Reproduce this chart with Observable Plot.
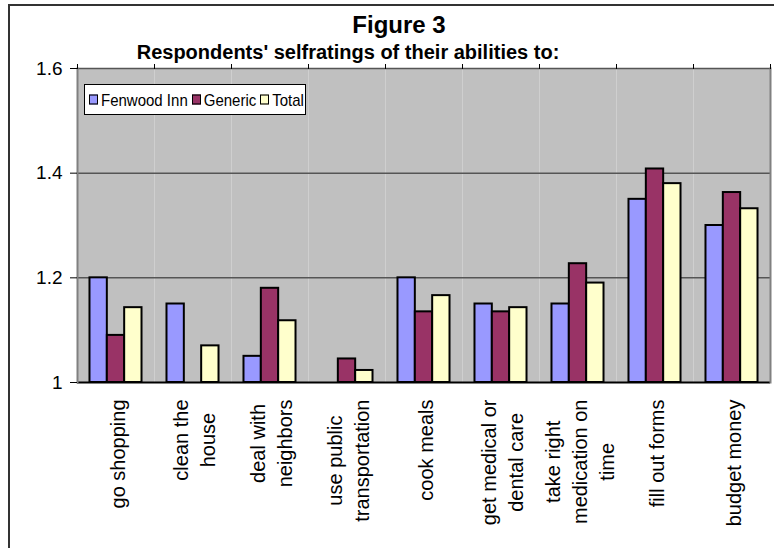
<!DOCTYPE html>
<html>
<head>
<meta charset="utf-8">
<script src="https://cdn.jsdelivr.net/npm/d3@7"></script>
<script src="https://cdn.jsdelivr.net/npm/@observablehq/plot@0.6"></script>
<style>
  body { margin: 0; background: #fff; }
  #wrap { position: relative; width: 774px; height: 548px; overflow: hidden; font-family: "Liberation Sans", Arial, sans-serif; background: #fff; }
  #outer { position: absolute; left: 8px; top: 4px; width: 900px; height: 700px; border-left: 2px solid #333; border-top: 2px solid #333; }
  #chart { position: absolute; left: 0; top: 0; }
  .title { position: absolute; text-align: center; font-weight: bold; color: #000; white-space: nowrap; }
  #t1 { left: 249px; top: 11px; width: 300px; font-size: 24px; }
  #t2 { left: 98px; top: 41px; width: 500px; font-size: 20px; }
  #legend { position: absolute; left: 84px; top: 84px; width: 222px; height: 31px; border: 1px solid #000; background: #fff; display: flex; align-items: center; padding-left: 4px; box-sizing: border-box; font-size: 15px; white-space: nowrap; }
  .sw { display: inline-block; width: 7px; height: 7px; border: 1.5px solid #000; margin-right: 3px; }
  .item { display: inline-flex; align-items: center; margin-right: 4px; transform: scaleY(1.12); }
</style>
</head>
<body>
<div id="wrap">
  <div id="outer"></div>
  <div id="chart"></div>
  <div class="title" id="t1">Figure 3</div>
  <div class="title" id="t2">Respondents' selfratings of their abilities to:</div>
  <div id="legend"></div>
</div>
<script>
const categories = ["go shopping", "clean the house", "deal with neighbors", "use public transportation", "cook meals", "get medical or dental care", "take right medication on time", "fill out forms", "budget money"];
const categoryLabels = ["go shopping", "clean the\nhouse", "deal with\nneighbors", "use public\ntransportation", "cook meals", "get medical or\ndental care", "take right\nmedication on\ntime", "fill out forms", "budget money"];
const series = ["Fenwood Inn", "Generic", "Total"];
const fenwood = [1.20, 1.15, 1.05, null, 1.20, 1.15, 1.15, 1.35, 1.30];
const generic = [1.09, null, 1.18, 1.045, 1.135, 1.135, 1.227, 1.408, 1.363];
const total = [1.143, 1.07, 1.118, 1.023, 1.166, 1.143, 1.19, 1.38, 1.332];
const yTicks = [1, 1.2, 1.4, 1.6];
const yTickLabels = ["1", "1.2", "1.4", "1.6"];
const colors = ["#9999FF", "#993366", "#FFFFCC"];

const seriesValues = [fenwood, generic, total];
const rows = categories.flatMap((c, i) => series.map((s, j) => ({category: c, series: s, value: seriesValues[j][i]})))
  .filter(d => d.value != null);

const W = 774, H = 548, mL = 77, mR = 4, mT = 68, mB = 166;
const step = (W - mL - mR) / categories.length;

const plot = Plot.plot({
  width: W, height: H,
  marginLeft: mL, marginRight: mR, marginTop: mT, marginBottom: mB,
  style: {fontFamily: "'Liberation Sans', Arial, sans-serif", background: "transparent", color: "#000"},
  fx: {domain: categories, padding: 0, round: false, label: null},
  x: {domain: series, paddingInner: 0, paddingOuter: 0.72, round: false, axis: null},
  y: {domain: [yTicks[0], yTicks[yTicks.length - 1]], label: null},
  color: {domain: series, range: colors},
  marks: [
    Plot.frame({fill: "#c0c0c0", stroke: "none"}),
    Plot.gridY({ticks: yTicks.slice(1), stroke: "#555", strokeOpacity: 1, strokeWidth: 1.5}),
    Plot.barY(rows, {fx: "category", x: "series", y1: yTicks[0], y2: "value", fill: "series", stroke: "#000", strokeWidth: 2}),
    Plot.ruleY([yTicks[0]], {stroke: "#000", strokeWidth: 2}),
    Plot.frame({anchor: "left", facetAnchor: "left", stroke: "#808080", strokeWidth: 2}),
    Plot.frame({anchor: "right", facetAnchor: "right", stroke: "#808080", strokeWidth: 2}),
    Plot.axisY({ticks: yTicks, tickFormat: (d) => yTickLabels[yTicks.indexOf(d)], tickSize: 7, tickPadding: 8, fontSize: 19, stroke: "#000", label: null}),
    Plot.axisFx({tickSize: 5, tickFormat: () => "", dx: -step / 2, stroke: "#000", label: null}),
    Plot.axisFx({tickSize: 5, tickFormat: () => "", dx: step / 2, stroke: "#000", label: null}),
    Plot.text(categories, {fx: (d) => d, text: (d, i) => categoryLabels[i], frameAnchor: "bottom", rotate: -90, textAnchor: "end", lineAnchor: "middle", lineHeight: 1.35, dy: 17, fontSize: 20, fill: "#000"})
  ]
});
document.getElementById("chart").appendChild(plot);

// center multi-line labels relative to each other (like the original)
plot.querySelectorAll("text").forEach((t) => {
  const spans = t.querySelectorAll("tspan");
  if (spans.length < 2) return;
  const lens = Array.from(spans, (s) => s.getComputedTextLength());
  const max = Math.max(...lens);
  spans.forEach((s, k) => s.setAttribute("dx", -(max - lens[k]) / 2));
});

const legend = document.getElementById("legend");
series.forEach((s, j) => {
  const item = document.createElement("span");
  item.className = "item";
  const sw = document.createElement("span");
  sw.className = "sw";
  sw.style.background = colors[j];
  item.appendChild(sw);
  item.appendChild(document.createTextNode(s));
  legend.appendChild(item);
});
</script>
</body>
</html>
